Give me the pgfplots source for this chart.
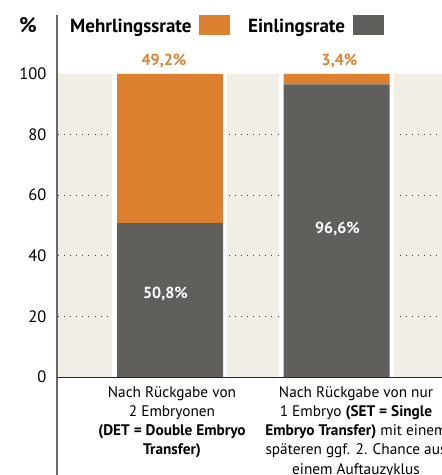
\documentclass[border=0pt]{standalone}
\usepackage{pgfplots}
\pgfplotsset{compat=1.18}
\usepackage{fontspec}
\setmainfont{PT Sans}
\definecolor{orng}{RGB}{221,129,48}
\definecolor{dgray}{RGB}{96,95,91}
\definecolor{beige}{RGB}{241,238,232}
\definecolor{axgray}{RGB}{105,105,105}
\begin{document}
\begin{tikzpicture}
% background panels (1pt = 1px; origin = axis lower-left corner)
\fill[beige] (1pt,0pt) rectangle (385pt,303pt);
\foreach \y in {60.6,121.2,181.8,242.4}{
  \draw[black!75, line width=0.9pt, dash pattern=on 0.9pt off 5.2pt] (1pt,\y pt) -- (385pt,\y pt);
}
\fill[white] (55.5pt,0pt) rectangle (170.5pt,303pt);
\fill[white] (222pt,0pt) rectangle (337pt,303pt);
\begin{axis}[
  at={(0pt,0pt)}, anchor=south west,
  scale only axis, width=385pt, height=303pt,
  xmin=-0.6787, xmax=1.6336, ymin=0, ymax=100,
  axis line style={draw=none},
  ybar stacked, bar width=106pt,
  xtick=\empty,
  ytick={0,20,40,60,80,100},
  major tick length=0pt,
  yticklabel style={font=\fontsize{16.5}{19}\selectfont, xshift=-7pt},
  /pgf/number format/assume math mode=true,
  clip=false,
]
\addplot[fill=dgray, draw=none] coordinates {(0,50.8) (1,96.6)};
\addplot[fill=orng, draw=none] coordinates {(0,49.2) (1,3.4)};
\end{axis}
% axis lines
\draw[black!85, line width=1pt] (0pt,0pt) -- (385pt,0pt);
\draw[axgray, line width=2pt] (0pt,362pt) -- (0pt,-100pt);
% value labels
\begin{scope}[every node/.style={inner sep=0pt, anchor=base, font=\bfseries\fontsize{16}{19}\selectfont}]
\node[text=orng] at (107pt,312pt) {49,2\%};
\node[text=orng] at (282.5pt,312pt) {3,4\%};
\node[text=white] at (108.5pt,79pt) {50,8\%};
\node[text=white] at (280.5pt,144pt) {96,6\%};
\end{scope}
% y unit label and legend
\node[anchor=base west, inner sep=0pt, font=\bfseries\fontsize{21}{24}\selectfont] at (-38pt,345pt) {\%};
\node[anchor=base west, inner sep=0pt, font=\bfseries\fontsize{19}{22}\selectfont] at (13pt,345pt) {Mehrlingssrate};
\fill[orng] (142pt,342pt) rectangle (173pt,362pt);
\node[anchor=base west, inner sep=0pt, font=\bfseries\fontsize{19}{22}\selectfont] at (191pt,345pt) {Einlingsrate};
\fill[dgray] (296pt,342pt) rectangle (327pt,362pt);
% category labels
\node[anchor=north, align=center, inner sep=0pt, font=\fontsize{15.3}{19.3}\selectfont] at (115pt,-9pt)
  {Nach Rückgabe von\\2 Embryonen\\\textbf{(DET = Double Embryo}\\\textbf{Transfer)}};
\node[anchor=north, align=center, inner sep=0pt, font=\fontsize{15.3}{19.3}\selectfont] at (299pt,-9pt)
  {Nach Rückgabe von nur\\1 Embryo \textbf{(SET = Single}\\\textbf{Embryo Transfer)} mit einem\\späteren ggf. 2. Chance aus\\einem Auftauzyklus};
\pgfresetboundingbox
\useasboundingbox (-57pt,-98pt) rectangle (385pt,377pt);
\end{tikzpicture}
\end{document}
